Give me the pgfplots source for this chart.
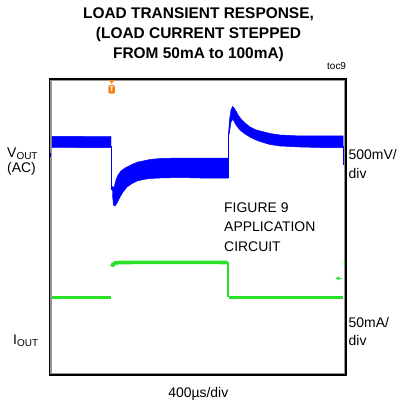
\documentclass[border=0pt]{standalone}
\usepackage{pgfplots}
\pgfplotsset{compat=1.18}
\usepackage{fontspec}
\setmainfont{Liberation Sans}
\definecolor{trgreen}{RGB}{40,225,40}
\definecolor{trorange}{RGB}{245,130,30}
\definecolor{frgray}{RGB}{150,150,150}
\newcommand{\lab}{\fontsize{14}{16}\selectfont}
\newcommand{\sub}[1]{\raisebox{-2bp}{\fontsize{10}{10}\selectfont #1}}
\begin{document}
\begin{tikzpicture}
\begin{axis}[scale only axis, width=296.5bp, height=296bp,
  xmin=49.5, xmax=346, ymin=79, ymax=375, y dir=reverse,
  hide axis, clip=false]
% bounding box of the whole figure
\path (axis cs:0,0) rectangle (axis cs:401,405);
% frame
\draw[frgray, line width=1.3bp] (axis cs:51,80.5) rectangle (axis cs:344.6,373.6);
\draw[black, line width=1.3bp] (axis cs:49.5,79) rectangle (axis cs:346,375);

% ---- VOUT trace (blue) ----
\addplot[draw=blue, fill=blue, line width=0.5bp] coordinates {
 (52,136.5) (70,136.3) (90,136.6) (111,136.5)
 (111,147.5) (90,147.7) (70,147.4) (52,147.5)};
\addplot[blue, line width=1bp] coordinates {(111.6,146) (111.6,190)};
\addplot[draw=blue, fill=blue, line width=0.5bp] coordinates {
 (112,186) (114,188) (116,180) (118,175) (121,171) (125,168) (129,166)
 (133,164) (138,162) (143,161) (150,159.5) (160,158.5) (180,158) (200,158) (228,158)
 (228,178) (200,178) (180,177.5) (160,178) (150,178.5) (143,179.5) (137,181)
 (132,183.5) (127,187) (123,192) (120,197) (117,203) (115,206) (113.5,205) (112.5,195)};
\addplot[blue, line width=1bp] coordinates {(228.2,178) (228.2,133)};
\addplot[draw=blue, fill=blue, line width=0.5bp] coordinates {
 (228.6,133) (229.5,120) (231,110) (232.5,106.5) (234,108) (236,111) (238,115)
 (241,119) (245,123) (250,127) (255,129.5) (260,131) (270,133.5) (280,135)
 (300,136) (320,136) (343,136)
 (343,147.5) (320,147.5) (300,147) (280,146) (270,144.5) (260,141.5) (255,139.5)
 (250,137) (245,134) (240,130) (236,125) (233,119) (231,122) (229.5,132) (228.6,136)};
\addplot[blue, line width=1bp] coordinates {(343.6,146) (343.6,165)};
\addplot[blue, line width=1bp] coordinates {(50.6,153) (50.6,156.5)};

% ---- IOUT trace (green) ----
\addplot[trgreen, line width=3.6bp] coordinates {(52,297.5) (110.5,297.5)};
\addplot[trgreen, line width=3.6bp] coordinates {
 (111,264) (113,265) (115,263) (120,262.5) (160,262.3) (200,262.3) (227.5,262.5)};
\addplot[trgreen, line width=1.2bp] coordinates {(227.9,262) (227.9,297)};
\addplot[trgreen, line width=3.6bp] coordinates {(228.5,297.5) (343,297.5)};
\addplot[trgreen, line width=1.2bp] coordinates {(344.6,259) (344.6,265.5)};
\draw[trgreen, line width=0.9bp, -stealth] (axis cs:341.5,278.3) -- (axis cs:335.5,278.3);

% ---- trigger marker ----
\fill[trorange] (axis cs:108.3,80) rectangle (axis cs:115,81.3);
\fill[trorange] (axis cs:109.8,81) -- (axis cs:113.6,81) -- (axis cs:111.7,84) -- cycle;
\node[fill=trorange, rounded corners=1.2bp, text=white, inner sep=0pt,
  minimum width=6.5bp, minimum height=8.5bp,
  font=\bfseries\fontsize{7}{7}\selectfont] at (axis cs:111.7,89.3) {T};

% ---- texts ----
\node[anchor=base, inner sep=0pt, font=\bfseries\fontsize{15.5}{18}\selectfont]
  at (axis cs:198.5,18.3) {LOAD TRANSIENT RESPONSE,};
\node[anchor=base, inner sep=0pt, font=\bfseries\fontsize{15.5}{18}\selectfont]
  at (axis cs:198.5,38.6) {(LOAD CURRENT STEPPED};
\node[anchor=base, inner sep=0pt, font=\bfseries\fontsize{15.5}{18}\selectfont]
  at (axis cs:198.5,58.3) {FROM 50mA to 100mA)};
\node[anchor=base west, inner sep=0pt, font=\fontsize{10}{12}\selectfont]
  at (axis cs:327,70) {toc9};

\node[anchor=base west, inner sep=0pt, font=\lab] at (axis cs:7,157.3) {V\sub{OUT}};
\node[anchor=base west, inner sep=0pt, font=\lab] at (axis cs:7,172.7) {(AC)};
\node[anchor=base west, inner sep=0pt, font=\lab] at (axis cs:348.5,159) {500mV/};
\node[anchor=base west, inner sep=0pt, font=\lab] at (axis cs:348.5,178) {div};

\node[anchor=base west, inner sep=0pt, font=\lab] at (axis cs:224,212.3) {FIGURE 9};
\node[anchor=base west, inner sep=0pt, font=\lab] at (axis cs:224,231.7) {APPLICATION};
\node[anchor=base west, inner sep=0pt, font=\lab] at (axis cs:224,251) {CIRCUIT};

\node[anchor=base west, inner sep=0pt, font=\lab] at (axis cs:13,344) {I\sub{OUT}};
\node[anchor=base west, inner sep=0pt, font=\lab] at (axis cs:348.5,327) {50mA/};
\node[anchor=base west, inner sep=0pt, font=\lab] at (axis cs:348.5,345.5) {div};

\node[anchor=base, inner sep=0pt, font=\lab] at (axis cs:198.3,397.5) {400µs/div};
\end{axis}
\end{tikzpicture}
\end{document}
